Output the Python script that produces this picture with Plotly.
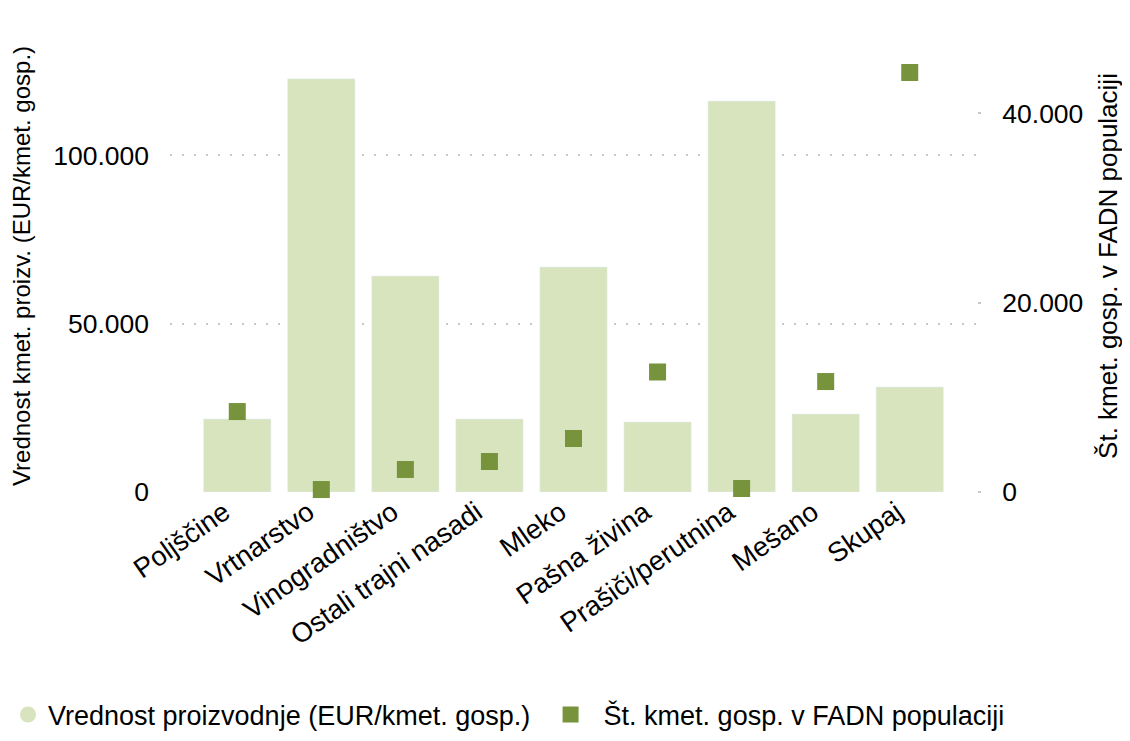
import plotly.graph_objects as go

categories = ["Poljščine", "Vrtnarstvo", "Vinogradništvo", "Ostali trajni nasadi",
              "Mleko", "Pašna živina", "Prašiči/perutnina", "Mešano", "Skupaj"]
vrednost = [21700, 122700, 64150, 21700, 66800, 20800, 116100, 23150, 31200]
st_kmet = [8500, 260, 2380, 3220, 5650, 12680, 370, 11670, 44320]

bar_color = "#D7E4BD"
sq_color = "#77933C"
font_family = "Liberation Sans, Arial, sans-serif"
txt = "#000000"

fig = go.Figure()
fig.add_trace(go.Bar(x=categories, y=vrednost, marker_color=bar_color, width=0.8,
                     name="Vrednost proizvodnje (EUR/kmet. gosp.)", showlegend=False))
fig.add_trace(go.Scatter(x=categories, y=st_kmet, mode="markers", yaxis="y2",
                         marker=dict(symbol="square", size=17, color=sq_color),
                         cliponaxis=False, name="Št. kmet. gosp. v FADN populaciji",
                         showlegend=False))
# legend entries
fig.add_trace(go.Scatter(x=[None], y=[None], mode="markers", legend="legend",
                         marker=dict(symbol="circle", size=18, color=bar_color),
                         name="Vrednost proizvodnje (EUR/kmet. gosp.)"))
fig.add_trace(go.Scatter(x=[None], y=[None], mode="markers", legend="legend2",
                         marker=dict(symbol="square", size=20, color=sq_color),
                         name="Št. kmet. gosp. v FADN populaciji"))

fig.update_layout(
    width=1122, height=733,
    margin=dict(l=162, r=150, t=32, b=249),
    plot_bgcolor="white", paper_bgcolor="white",
    separators=",.",
    font=dict(family=font_family, color=txt, size=24),
    xaxis=dict(range=[-0.8, 8.8], tickangle=-35, tickfont=dict(size=27.5),
               ticklabelshift=-13, ticklabelstandoff=-2,
               showgrid=False, zeroline=False, showline=False, ticks=""),
    yaxis=dict(range=[0, 134244], tickvals=[0, 50000, 100000], tickformat=",",
               tickfont=dict(size=26.5), showgrid=True, gridcolor="#c8c8c8",
               gridwidth=2, griddash="2px,10px", zeroline=False,
               ticklabelstandoff=20,
               title=dict(text="Vrednost kmet. proizv. (EUR/kmet. gosp.)",
                          font=dict(size=24), standoff=16)),
    yaxis2=dict(range=[0, 47755], tickvals=[0, 20000, 40000], tickformat=",",
                overlaying="y", side="right", showgrid=False, zeroline=False,
                tickfont=dict(size=26.5), ticks="outside", ticklen=3, tickwidth=2,
                tickcolor="#c8c8c8", ticklabelstandoff=16,
                title=dict(text="Št. kmet. gosp. v FADN populaciji",
                           font=dict(size=26), standoff=16)),
    legend=dict(orientation="h", x=0.0, xref="container", y=0.0355, yref="container",
                yanchor="middle", xanchor="left", font=dict(size=27),
                itemsizing="trace", itemwidth=30),
    legend2=dict(orientation="h", x=0.472, xref="container", y=0.0355, yref="container",
                 yanchor="middle", xanchor="left", font=dict(size=27),
                 itemsizing="trace", itemwidth=56),
)

fig.write_html("out.html")
